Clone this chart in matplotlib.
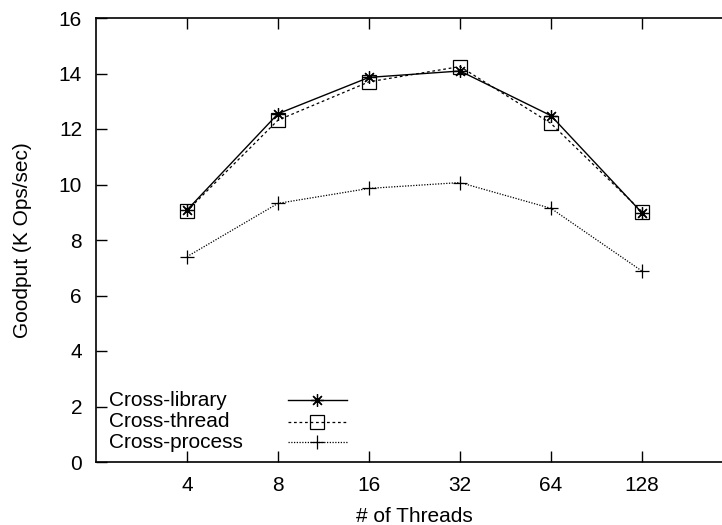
import matplotlib
matplotlib.use('Agg')
import matplotlib.pyplot as plt
from matplotlib.lines import Line2D

plt.rcParams['font.family'] = ['Liberation Sans', 'DejaVu Sans']

# dane
watki = ['4', '8', '16', '32', '64', '128']
cross_library = [9.08, 12.55, 13.86, 14.09, 12.48, 8.98]
cross_thread = [9.05, 12.32, 13.70, 14.25, 12.20, 9.02]
cross_process = [7.40, 9.32, 9.86, 10.07, 9.14, 6.88]

serie = [
    ('Cross-library', cross_library, dict(linestyle='-', marker=(8, 2, 0), markersize=9, linewidth=1.0)),
    ('Cross-thread', cross_thread, dict(linestyle=(0, (2.2, 2.2)), marker='s', markersize=9.5,
                                        markerfacecolor='none', linewidth=0.9)),
    ('Cross-process', cross_process, dict(linestyle=(0, (1, 1.2)), marker='+', markersize=10, linewidth=0.9)),
]

ROZMIAR = 15

fig = plt.figure(figsize=(7.22, 5.25), dpi=100)
# os X siega poza prawa krawedz obrazka
ax = fig.add_axes([96 / 722, 1 - 462 / 525, (733 - 96) / 722, (462 - 18) / 525])

x = list(range(1, len(watki) + 1))
for nazwa, wartosci, styl in serie:
    ax.plot(x, wartosci, color='black', markeredgewidth=0.9, **styl)

ax.set_xlim(0, 7)
ax.set_ylim(0, 16)
ax.set_xticks(x)
ax.set_xticklabels(watki)
ax.set_yticks(range(0, 17, 2))
ax.tick_params(direction='in', length=8, width=1.0, labelsize=ROZMIAR, top=True, right=True, pad=10)
for s in ax.spines.values():
    s.set_linewidth(1.2)

ax.set_xlabel('# of Threads', fontsize=ROZMIAR, labelpad=9)
ax.set_ylabel('Goodput (K Ops/sec)', fontsize=ROZMIAR, labelpad=19)

# legenda w stylu gnuplota: tekst po lewej, probka po prawej
wiersze_y = [400, 421.7, 442.3]
for (nazwa, wartosci, styl), wy in zip(serie, wiersze_y):
    fy = 1 - wy / 525
    fig.text(109 / 722, fy, nazwa, fontsize=ROZMIAR, ha='left', va='center')
    fig.add_artist(Line2D([288 / 722, 347 / 722], [fy, fy], color='black', markeredgewidth=0.9,
                          markevery=[], **styl))
    fig.add_artist(Line2D([317 / 722], [fy], color='black', markeredgewidth=0.9,
                          **{**styl, 'linestyle': 'none'}))

fig.savefig('out.png', dpi=100)
